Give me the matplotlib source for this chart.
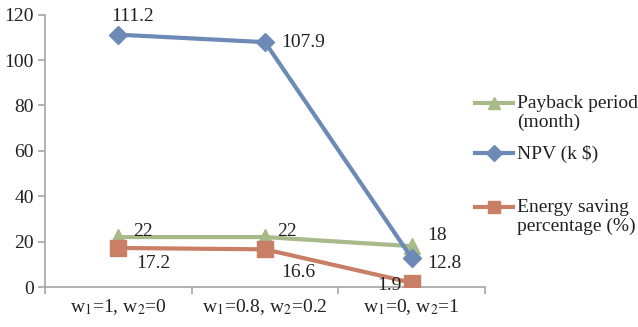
import matplotlib
matplotlib.use("Agg")
import matplotlib.pyplot as plt
from matplotlib.lines import Line2D

plt.rcParams['font.family'] = ['Liberation Serif', 'DejaVu Serif']
plt.rcParams['mathtext.fontset'] = 'stix'

categories = [r'w$_1$=1, w$_2$=0', r'w$_1$=0.8, w$_2$=0.2', r'w$_1$=0, w$_2$=1']
payback = [22, 22, 18]
npv = [111.2, 107.9, 12.8]
energy = [17.2, 16.6, 1.9]
yticks = [0, 20, 40, 60, 80, 100, 120]

c_pay = '#A8B98A'
c_npv = '#6D8AB6'
c_en = '#C97E66'
txt = '#222222'
fs = 14

fig = plt.figure(figsize=(6.38, 3.27), dpi=100)
ax = fig.add_axes([45/638, 1-287/327, 440/638, (287-14.7)/327])

x = list(range(len(categories)))
ax.plot(x, payback, color=c_pay, lw=3, marker='^', ms=11, zorder=3)
ax.plot(x, npv, color=c_npv, lw=3, marker='D', ms=9, zorder=4)
ax.plot(x, energy, color=c_en, lw=3, marker='s', ms=11, zorder=3)

ax.set_xlim(-0.5, 2.5)
ax.set_ylim(0, 120)
ax.set_yticks(yticks)
ax.set_xticks([-0.5, 0.5, 1.5, 2.5])
ax.set_xticklabels([])
ax.set_xticks(x, minor=True)
ax.set_xticklabels(categories, minor=True)
ax.tick_params(axis='x', which='minor', length=0, pad=7, labelsize=fs, labelcolor=txt)
ax.tick_params(axis='x', which='major', length=5, color='#A6A6A6', width=1.2)
ax.tick_params(axis='y', length=5, color='#A6A6A6', width=1.2, labelsize=fs, labelcolor=txt, pad=3)
for s in ['top', 'right']:
    ax.spines[s].set_visible(False)
for s in ['left', 'bottom']:
    ax.spines[s].set_color('#A6A6A6')
    ax.spines[s].set_linewidth(1.2)

def lab(xv, yv, dx, dy, ha='left', va='center'):
    ax.annotate(f'{yv:g}', (xv, yv), xytext=(dx, dy), textcoords='offset points',
                ha=ha, va=va, fontsize=fs, color=txt, zorder=5)

# NPV
lab(0, npv[0], 10, 7, ha='center', va='bottom')
lab(1, npv[1], 12, 0)
lab(2, npv[2], 11, -4)
# Payback
lab(0, payback[0], 11, 4)
lab(1, payback[1], 9, 4)
lab(2, payback[2], 11, 8)
# Energy
lab(0, energy[0], 13, -11)
lab(1, energy[1], 12, -17)
lab(2, energy[2], -7, -2, ha='right')

# legend drawn manually
def fx(px):
    return px / 638
def fy(py):
    return 1 - py / 327

entries = [
    ('Payback period\n(month)', c_pay, '^', 11, 103),
    ('NPV (k $)', c_npv, 'D', 9, 153),
    ('Energy saving\npercentage (%)', c_en, 's', 11, 207),
]
for label, col, mk, ms, py in entries:
    fig.add_artist(Line2D([fx(475), fx(513)], [fy(py), fy(py)], color=col, lw=3,
                          transform=fig.transFigure))
    fig.add_artist(Line2D([fx(494)], [fy(py)], color=col, marker=mk, ms=ms * 0.85,
                          transform=fig.transFigure))
    fig.text(fx(517), fy(py) + 8/327, label, ha='left', va='top', fontsize=fs,
             color=txt, linespacing=1.1)

fig.savefig('out.png', dpi=100)
